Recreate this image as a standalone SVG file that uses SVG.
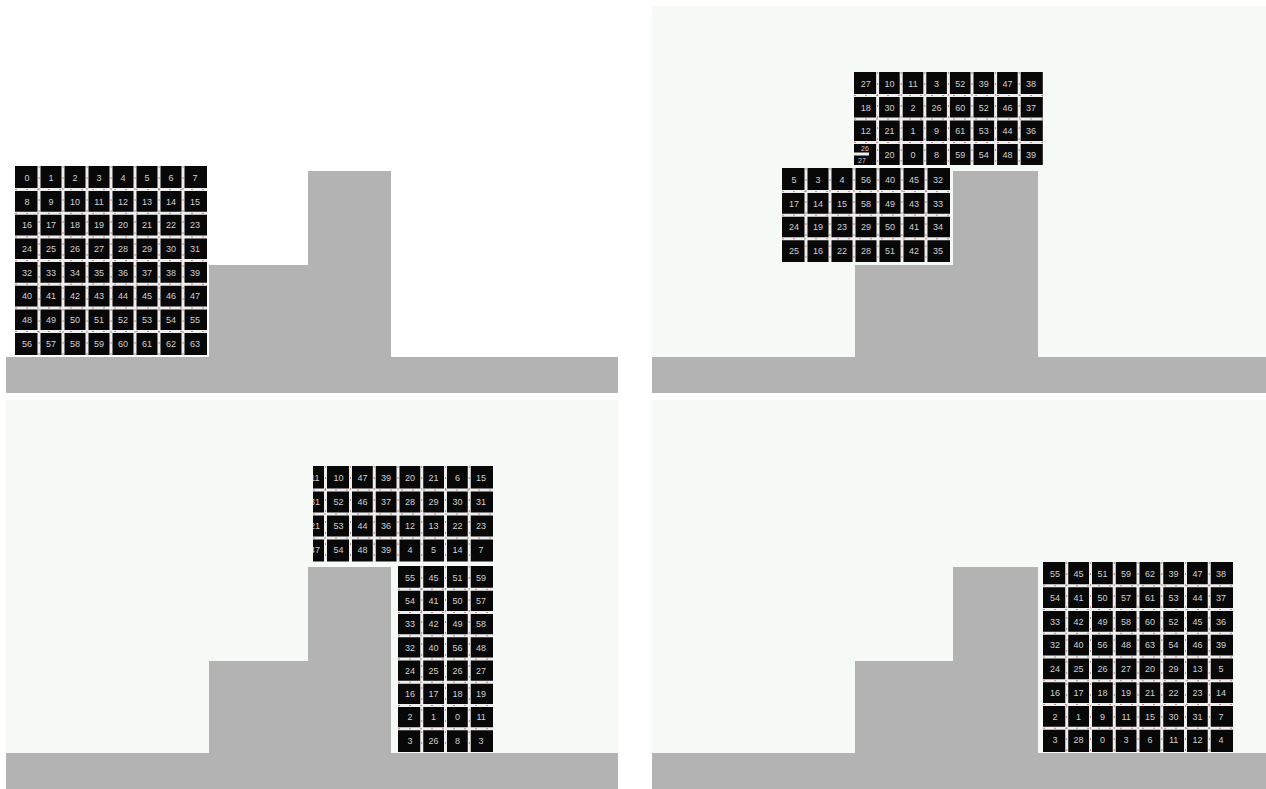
<svg xmlns="http://www.w3.org/2000/svg" width="1266" height="789" viewBox="0 0 1266 789">
<style>
.bg{fill:#f6faf6}
.gr{fill:#b3b3b3}
.bk{fill:#080808}
.gl{stroke:#eeeeee;stroke-width:3;fill:none}
.rd{stroke:#9a3838;stroke-width:1;stroke-dasharray:2 9;fill:none;opacity:.55}
.n{font-family:"Liberation Sans",Arial,sans-serif;font-size:9px;fill:#d0d0d0;text-anchor:middle}
.s{font-size:7px}
</style>
<defs>
<clipPath id="c3"><rect x="313" y="466" width="12" height="96"/></clipPath>
</defs>
<rect width="1266" height="789" fill="#ffffff"/>

<!-- Panel 1 -->
<g id="panel1">
<rect class="gr" x="6" y="357" width="612" height="36"/>
<rect class="gr" x="209" y="265" width="99" height="92"/>
<rect class="gr" x="308" y="171" width="83" height="186"/>
<g id="grid1">
<rect class="bk" x="15" y="166" width="192" height="189"/>
<path class="gl" d="M39 166V355M63 166V355M87 166V355M111 166V355M135 166V355M159 166V355M183 166V355M15 189.6H207M15 213.3H207M15 237H207M15 260.6H207M15 284.2H207M15 307.9H207M15 331.5H207"/>
<path class="rd" d="M39 166V355M63 166V355M87 166V355M111 166V355M135 166V355M159 166V355M183 166V355M15 189.6H207M15 213.3H207M15 237H207M15 260.6H207M15 284.2H207M15 307.9H207M15 331.5H207"/>
<g class="n">
<text x="27" y="181.1">0</text><text x="51" y="181.1">1</text><text x="75" y="181.1">2</text><text x="99" y="181.1">3</text><text x="123" y="181.1">4</text><text x="147" y="181.1">5</text><text x="171" y="181.1">6</text><text x="195" y="181.1">7</text>
<text x="27" y="204.8">8</text><text x="51" y="204.8">9</text><text x="75" y="204.8">10</text><text x="99" y="204.8">11</text><text x="123" y="204.8">12</text><text x="147" y="204.8">13</text><text x="171" y="204.8">14</text><text x="195" y="204.8">15</text>
<text x="27" y="228.4">16</text><text x="51" y="228.4">17</text><text x="75" y="228.4">18</text><text x="99" y="228.4">19</text><text x="123" y="228.4">20</text><text x="147" y="228.4">21</text><text x="171" y="228.4">22</text><text x="195" y="228.4">23</text>
<text x="27" y="252.1">24</text><text x="51" y="252.1">25</text><text x="75" y="252.1">26</text><text x="99" y="252.1">27</text><text x="123" y="252.1">28</text><text x="147" y="252.1">29</text><text x="171" y="252.1">30</text><text x="195" y="252.1">31</text>
<text x="27" y="275.7">32</text><text x="51" y="275.7">33</text><text x="75" y="275.7">34</text><text x="99" y="275.7">35</text><text x="123" y="275.7">36</text><text x="147" y="275.7">37</text><text x="171" y="275.7">38</text><text x="195" y="275.7">39</text>
<text x="27" y="299.4">40</text><text x="51" y="299.4">41</text><text x="75" y="299.4">42</text><text x="99" y="299.4">43</text><text x="123" y="299.4">44</text><text x="147" y="299.4">45</text><text x="171" y="299.4">46</text><text x="195" y="299.4">47</text>
<text x="27" y="323">48</text><text x="51" y="323">49</text><text x="75" y="323">50</text><text x="99" y="323">51</text><text x="123" y="323">52</text><text x="147" y="323">53</text><text x="171" y="323">54</text><text x="195" y="323">55</text>
<text x="27" y="346.7">56</text><text x="51" y="346.7">57</text><text x="75" y="346.7">58</text><text x="99" y="346.7">59</text><text x="123" y="346.7">60</text><text x="147" y="346.7">61</text><text x="171" y="346.7">62</text><text x="195" y="346.7">63</text>
</g>
</g>
</g>

<!-- Panel 2 -->
<g id="panel2">
<rect class="bg" x="652" y="6" width="614" height="387"/>
<rect class="gr" x="652" y="357" width="614" height="36"/>
<rect class="gr" x="855" y="265" width="98" height="92"/>
<rect class="gr" x="953" y="171" width="85" height="186"/>
<g id="grid2top">
<rect class="bk" x="854" y="72" width="188.8" height="93"/>
<path class="gl" d="M877.6 72V165M901.2 72V165M924.8 72V165M948.4 72V165M972 72V165M995.6 72V165M1019.2 72V165M854 95.5H1042.8M854 119H1042.8M854 142.5H1042.8M854 154H869"/>
<path class="rd" d="M877.6 72V165M901.2 72V165M924.8 72V165M948.4 72V165M972 72V165M995.6 72V165M1019.2 72V165M854 95.5H1042.8M854 119H1042.8M854 142.5H1042.8"/>
<g class="n">
<text x="865.8" y="87">27</text><text x="889.4" y="87">10</text><text x="913" y="87">11</text><text x="936.6" y="87">3</text><text x="960.2" y="87">52</text><text x="983.8" y="87">39</text><text x="1007.4" y="87">47</text><text x="1031" y="87">38</text>
<text x="865.8" y="110.5">18</text><text x="889.4" y="110.5">30</text><text x="913" y="110.5">2</text><text x="936.6" y="110.5">26</text><text x="960.2" y="110.5">60</text><text x="983.8" y="110.5">52</text><text x="1007.4" y="110.5">46</text><text x="1031" y="110.5">37</text>
<text x="865.8" y="134">12</text><text x="889.4" y="134">21</text><text x="913" y="134">1</text><text x="936.6" y="134">9</text><text x="960.2" y="134">61</text><text x="983.8" y="134">53</text><text x="1007.4" y="134">44</text><text x="1031" y="134">36</text>
<text class="s" x="865" y="151">26</text><text class="s" x="862" y="163">27</text><text x="889.4" y="157.5">20</text><text x="913" y="157.5">0</text><text x="936.6" y="157.5">8</text><text x="960.2" y="157.5">59</text><text x="983.8" y="157.5">54</text><text x="1007.4" y="157.5">48</text><text x="1031" y="157.5">39</text>
</g>
</g>
<g id="grid2low">
<rect class="bk" x="782" y="168" width="168" height="94"/>
<path class="gl" d="M806 168V262M830 168V262M854 168V262M878 168V262M902 168V262M926 168V262M782 191.6H950M782 215.2H950M782 238.8H950"/>
<path class="rd" d="M806 168V262M830 168V262M854 168V262M878 168V262M902 168V262M926 168V262M782 191.6H950M782 215.2H950M782 238.8H950"/>
<g class="n">
<text x="794" y="183">5</text><text x="818" y="183">3</text><text x="842" y="183">4</text><text x="866" y="183">56</text><text x="890" y="183">40</text><text x="914" y="183">45</text><text x="938" y="183">32</text>
<text x="794" y="206.6">17</text><text x="818" y="206.6">14</text><text x="842" y="206.6">15</text><text x="866" y="206.6">58</text><text x="890" y="206.6">49</text><text x="914" y="206.6">43</text><text x="938" y="206.6">33</text>
<text x="794" y="230.2">24</text><text x="818" y="230.2">19</text><text x="842" y="230.2">23</text><text x="866" y="230.2">29</text><text x="890" y="230.2">50</text><text x="914" y="230.2">41</text><text x="938" y="230.2">34</text>
<text x="794" y="253.8">25</text><text x="818" y="253.8">16</text><text x="842" y="253.8">22</text><text x="866" y="253.8">28</text><text x="890" y="253.8">51</text><text x="914" y="253.8">42</text><text x="938" y="253.8">35</text>
</g>
</g>
</g>

<!-- Panel 3 -->
<g id="panel3">
<rect class="bg" x="6" y="400" width="612" height="389"/>
<rect class="gr" x="6" y="753" width="612" height="36"/>
<rect class="gr" x="209" y="661" width="99" height="92"/>
<rect class="gr" x="308" y="567" width="83" height="186"/>
<g id="grid3top">
<rect class="bk" x="313" y="466" width="180" height="95.5"/>
<path class="gl" d="M325.5 466V562M350.5 466V562M374.25 466V562M398 466V562M421.75 466V562M445.5 466V562M469.25 466V562M313 490H493M313 514H493M313 538H493"/>
<path class="rd" d="M325.5 466V562M350.5 466V562M374.25 466V562M398 466V562M421.75 466V562M445.5 466V562M469.25 466V562M313 490H493M313 514H493M313 538H493"/>
<g class="n">
<g clip-path="url(#c3)"><text x="314.9" y="481.3">11</text><text x="314.9" y="505.3">31</text><text x="314.9" y="529.3">21</text><text x="314.9" y="553.3">47</text></g>
<text x="338.6" y="481.3">10</text><text x="362.4" y="481.3">47</text><text x="386.1" y="481.3">39</text><text x="409.9" y="481.3">20</text><text x="433.6" y="481.3">21</text><text x="457.4" y="481.3">6</text><text x="481.1" y="481.3">15</text>
<text x="338.6" y="505.3">52</text><text x="362.4" y="505.3">46</text><text x="386.1" y="505.3">37</text><text x="409.9" y="505.3">28</text><text x="433.6" y="505.3">29</text><text x="457.4" y="505.3">30</text><text x="481.1" y="505.3">31</text>
<text x="338.6" y="529.3">53</text><text x="362.4" y="529.3">44</text><text x="386.1" y="529.3">36</text><text x="409.9" y="529.3">12</text><text x="433.6" y="529.3">13</text><text x="457.4" y="529.3">22</text><text x="481.1" y="529.3">23</text>
<text x="338.6" y="553.3">54</text><text x="362.4" y="553.3">48</text><text x="386.1" y="553.3">39</text><text x="409.9" y="553.3">4</text><text x="433.6" y="553.3">5</text><text x="457.4" y="553.3">14</text><text x="481.1" y="553.3">7</text>
</g>
</g>
<g id="grid3low">
<rect class="bk" x="398" y="566" width="95" height="186"/>
<path class="gl" d="M421.75 566V752M445.5 566V752M469.25 566V752M398 589.25H493M398 612.5H493M398 635.75H493M398 659H493M398 682.25H493M398 705.5H493M398 728.75H493"/>
<path class="rd" d="M421.75 566V752M445.5 566V752M469.25 566V752M398 589.25H493M398 612.5H493M398 635.75H493M398 659H493M398 682.25H493M398 705.5H493M398 728.75H493"/>
<g class="n">
<text x="409.9" y="580.9">55</text><text x="433.6" y="580.9">45</text><text x="457.4" y="580.9">51</text><text x="481.1" y="580.9">59</text>
<text x="409.9" y="604.2">54</text><text x="433.6" y="604.2">41</text><text x="457.4" y="604.2">50</text><text x="481.1" y="604.2">57</text>
<text x="409.9" y="627.4">33</text><text x="433.6" y="627.4">42</text><text x="457.4" y="627.4">49</text><text x="481.1" y="627.4">58</text>
<text x="409.9" y="650.7">32</text><text x="433.6" y="650.7">40</text><text x="457.4" y="650.7">56</text><text x="481.1" y="650.7">48</text>
<text x="409.9" y="673.9">24</text><text x="433.6" y="673.9">25</text><text x="457.4" y="673.9">26</text><text x="481.1" y="673.9">27</text>
<text x="409.9" y="697.2">16</text><text x="433.6" y="697.2">17</text><text x="457.4" y="697.2">18</text><text x="481.1" y="697.2">19</text>
<text x="409.9" y="720.4">2</text><text x="433.6" y="720.4">1</text><text x="457.4" y="720.4">0</text><text x="481.1" y="720.4">11</text>
<text x="409.9" y="743.7">3</text><text x="433.6" y="743.7">26</text><text x="457.4" y="743.7">8</text><text x="481.1" y="743.7">3</text>
</g>
</g>
</g>

<!-- Panel 4 -->
<g id="panel4">
<rect class="bg" x="652" y="400" width="614" height="389"/>
<rect class="gr" x="652" y="753" width="614" height="36"/>
<rect class="gr" x="855" y="661" width="98" height="92"/>
<rect class="gr" x="953" y="567" width="85" height="186"/>
<g id="grid4">
<rect class="bk" x="1043" y="562" width="190" height="190"/>
<path class="gl" d="M1066.75 562V752M1090.5 562V752M1114.25 562V752M1138 562V752M1161.75 562V752M1185.5 562V752M1209.25 562V752M1043 585.75H1233M1043 609.5H1233M1043 633.25H1233M1043 657H1233M1043 680.75H1233M1043 704.5H1233M1043 728.25H1233"/>
<path class="rd" d="M1066.75 562V752M1090.5 562V752M1114.25 562V752M1138 562V752M1161.75 562V752M1185.5 562V752M1209.25 562V752M1043 585.75H1233M1043 609.5H1233M1043 633.25H1233M1043 657H1233M1043 680.75H1233M1043 704.5H1233M1043 728.25H1233"/>
<g class="n">
<text x="1054.9" y="577.1">55</text><text x="1078.6" y="577.1">45</text><text x="1102.4" y="577.1">51</text><text x="1126.1" y="577.1">59</text><text x="1149.9" y="577.1">62</text><text x="1173.6" y="577.1">39</text><text x="1197.4" y="577.1">47</text><text x="1221.1" y="577.1">38</text>
<text x="1054.9" y="600.8">54</text><text x="1078.6" y="600.8">41</text><text x="1102.4" y="600.8">50</text><text x="1126.1" y="600.8">57</text><text x="1149.9" y="600.8">61</text><text x="1173.6" y="600.8">53</text><text x="1197.4" y="600.8">44</text><text x="1221.1" y="600.8">37</text>
<text x="1054.9" y="624.6">33</text><text x="1078.6" y="624.6">42</text><text x="1102.4" y="624.6">49</text><text x="1126.1" y="624.6">58</text><text x="1149.9" y="624.6">60</text><text x="1173.6" y="624.6">52</text><text x="1197.4" y="624.6">45</text><text x="1221.1" y="624.6">36</text>
<text x="1054.9" y="648.3">32</text><text x="1078.6" y="648.3">40</text><text x="1102.4" y="648.3">56</text><text x="1126.1" y="648.3">48</text><text x="1149.9" y="648.3">63</text><text x="1173.6" y="648.3">54</text><text x="1197.4" y="648.3">46</text><text x="1221.1" y="648.3">39</text>
<text x="1054.9" y="672.1">24</text><text x="1078.6" y="672.1">25</text><text x="1102.4" y="672.1">26</text><text x="1126.1" y="672.1">27</text><text x="1149.9" y="672.1">20</text><text x="1173.6" y="672.1">29</text><text x="1197.4" y="672.1">13</text><text x="1221.1" y="672.1">5</text>
<text x="1054.9" y="695.8">16</text><text x="1078.6" y="695.8">17</text><text x="1102.4" y="695.8">18</text><text x="1126.1" y="695.8">19</text><text x="1149.9" y="695.8">21</text><text x="1173.6" y="695.8">22</text><text x="1197.4" y="695.8">23</text><text x="1221.1" y="695.8">14</text>
<text x="1054.9" y="719.6">2</text><text x="1078.6" y="719.6">1</text><text x="1102.4" y="719.6">9</text><text x="1126.1" y="719.6">11</text><text x="1149.9" y="719.6">15</text><text x="1173.6" y="719.6">30</text><text x="1197.4" y="719.6">31</text><text x="1221.1" y="719.6">7</text>
<text x="1054.9" y="743.3">3</text><text x="1078.6" y="743.3">28</text><text x="1102.4" y="743.3">0</text><text x="1126.1" y="743.3">3</text><text x="1149.9" y="743.3">6</text><text x="1173.6" y="743.3">11</text><text x="1197.4" y="743.3">12</text><text x="1221.1" y="743.3">4</text>
</g>
</g>
</g>
</svg>
